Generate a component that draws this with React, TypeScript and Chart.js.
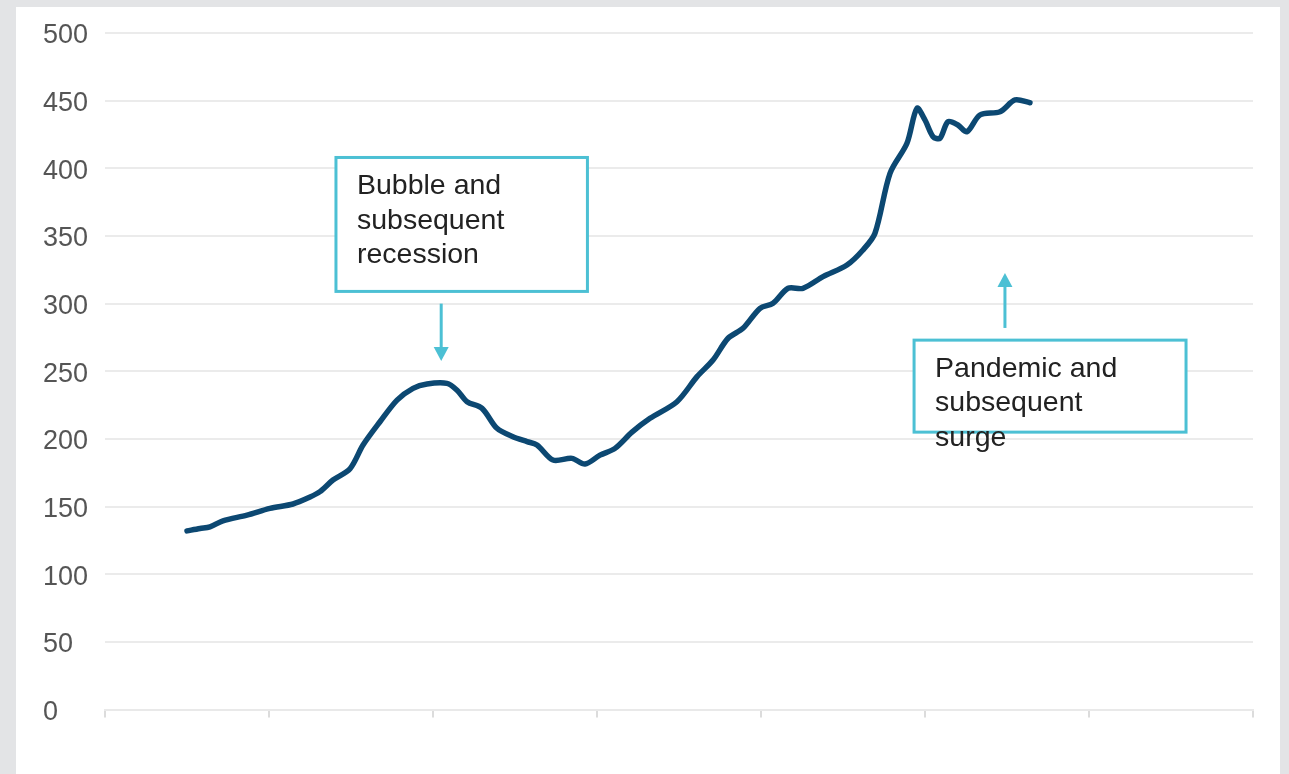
import React, { useEffect, useRef } from 'react';
import { Chart, registerables } from 'chart.js';

Chart.register(...registerables);

// Position along the time axis (quarters from the left edge of the axis)
const periods = [
  6.0, 6.95, 7.68, 8.63, 10.39, 12.07, 13.76, 15.0, 15.73, 16.68, 17.93, 18.88,
  20.12, 21.37, 22.54, 23.56, 25.02, 25.76, 26.49, 27.59, 28.68, 29.85, 30.88,
  31.61, 32.78, 34.17, 35.12, 36.22, 37.32, 38.56, 39.88, 41.85, 43.32, 44.49,
  45.59, 46.68, 47.93, 48.88, 49.98, 51.07, 52.54, 54.29, 55.46, 56.34, 57.44,
  58.68, 59.41, 60.0, 60.59, 61.1, 61.68, 62.41, 63.07, 64.02, 65.49, 66.59, 67.68,
];

// House price index values
const indexValues = [
  132, 133.8, 135, 139.5, 143.7, 148.7, 151.9, 157, 161, 169.6, 178, 195.5,
  212.7, 228.7, 237.4, 240.6, 241, 236, 227.5, 222.6, 207.8, 201.6, 198,
  195.5, 184.4, 185.6, 181.4, 188, 193, 205, 215.2, 227.5, 246, 258.3,
  274.4, 281.7, 296.5, 300.2, 311.3, 311.3, 319.9, 328.5, 339.6, 352, 396.3,
  418.5, 444.3, 435.7, 423.4, 422.2, 434.4, 432, 427, 439.4, 441.8, 450.5, 448.5,
];

const yMin = 0;
const yMax = 500;
const yStep = 50;
const xMin = 0;
const xMax = 84;
const xStep = 12;

const annotationLines1 = ['Bubble and', 'subsequent', 'recession'];
const annotationLines2 = ['Pandemic and', 'subsequent', 'surge'];

const annotations = [
  { lines: annotationLines1, x0: 16.9, x1: 35.3, yTop: 408, yBottom: 309, arrowX: 24.6, arrowFrom: 300, arrowTo: 257.5 },
  { lines: annotationLines2, x0: 59.2, x1: 79.1, yTop: 273, yBottom: 205, arrowX: 65.85, arrowFrom: 282, arrowTo: 322.6 },
];

const BOX_COLOR = '#4cc0d4';
const LINE_COLOR = '#0c4872';
const FONT = '"Liberation Sans", Arial, sans-serif';

const annotationPlugin = {
  id: 'calloutBoxes',
  afterDatasetsDraw(chart: any) {
    const { ctx } = chart;
    const xs = chart.scales.x;
    const ys = chart.scales.y;
    ctx.save();
    for (const a of annotations) {
      const l = xs.getPixelForValue(a.x0);
      const r = xs.getPixelForValue(a.x1);
      const t = ys.getPixelForValue(a.yTop);
      const b = ys.getPixelForValue(a.yBottom);
      ctx.fillStyle = '#ffffff';
      ctx.fillRect(l, t, r - l, b - t);
      ctx.strokeStyle = BOX_COLOR;
      ctx.lineWidth = 3;
      ctx.strokeRect(l, t, r - l, b - t);

      ctx.fillStyle = '#222222';
      ctx.font = `28.5px ${FONT}`;
      ctx.textBaseline = 'middle';
      ctx.textAlign = 'left';
      a.lines.forEach((s: string, i: number) => ctx.fillText(s, l + 21, t + 29 + i * 34.5));

      const ax = xs.getPixelForValue(a.arrowX);
      const ay0 = ys.getPixelForValue(a.arrowFrom);
      const ay1 = ys.getPixelForValue(a.arrowTo);
      const dir = Math.sign(ay1 - ay0);
      ctx.beginPath();
      ctx.moveTo(ax, ay0);
      ctx.lineTo(ax, ay1 - dir * 12);
      ctx.lineWidth = 3;
      ctx.strokeStyle = BOX_COLOR;
      ctx.stroke();
      ctx.beginPath();
      ctx.moveTo(ax, ay1);
      ctx.lineTo(ax - 7.5, ay1 - dir * 14);
      ctx.lineTo(ax + 7.5, ay1 - dir * 14);
      ctx.closePath();
      ctx.fillStyle = BOX_COLOR;
      ctx.fill();
    }
    ctx.restore();
  },
};

export default function App() {
  const canvasRef = useRef<HTMLCanvasElement | null>(null);

  useEffect(() => {
    if (!canvasRef.current) return;
    const data = periods.map((p, i) => ({ x: p, y: indexValues[i] }));
    const chart = new Chart(canvasRef.current, {
      type: 'line',
      data: {
        datasets: [
          {
            data,
            borderColor: LINE_COLOR,
            borderWidth: 5.5,
            pointRadius: 0,
            tension: 0.3,
            fill: false,
            borderCapStyle: 'round',
            borderJoinStyle: 'round',
          },
        ],
      },
      options: {
        responsive: false,
        animation: false,
        layout: { padding: { left: 27, right: 27, top: 26, bottom: 56.5 } },
        plugins: { legend: { display: false }, tooltip: { enabled: false } },
        scales: {
          x: {
            type: 'linear',
            min: xMin,
            max: xMax,
            ticks: { stepSize: xStep, display: false },
            grid: { drawOnChartArea: false, drawTicks: true, tickLength: 8, color: '#dcdcdc', lineWidth: 2 },
            border: { display: true, color: '#e9e9e9', width: 2 },
          },
          y: {
            min: yMin,
            max: yMax,
            afterFit: (s: any) => {
              s.width = 62;
            },
            ticks: {
              stepSize: yStep,
              crossAlign: 'far',
              color: '#555555',
              font: { family: FONT, size: 27 },
              padding: 8,
              labelOffset: 3,
            },
            grid: { color: '#ebebeb', lineWidth: 2, drawTicks: false },
            border: { display: false },
          },
        },
      },
      plugins: [annotationPlugin],
    });
    return () => chart.destroy();
  }, []);

  return (
    <div style={{ position: 'fixed', inset: 0, background: '#e3e4e6' }}>
      <div style={{ position: 'absolute', left: 16, top: 7, width: 1264, height: 767, background: '#ffffff' }}>
        <canvas ref={canvasRef} width={1264} height={767} style={{ display: 'block' }} />
      </div>
    </div>
  );
}
